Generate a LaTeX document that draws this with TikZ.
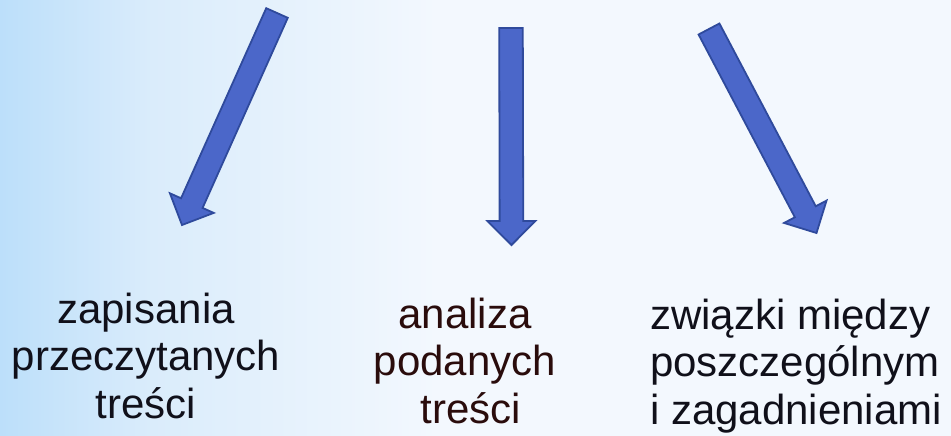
\documentclass[tikz,border=0pt]{standalone}
\usepackage{fontspec}
\setmainfont{Liberation Sans}
\usepackage{tikz}
\usetikzlibrary{calc}
\definecolor{bgleft}{HTML}{BCDFFA}
\definecolor{bgmid}{HTML}{DAECFB}
\definecolor{bgright}{HTML}{F3F8FE}
\definecolor{arrowfill}{HTML}{4B67C9}
\definecolor{arrowline}{HTML}{2F4A9C}
\definecolor{textdark}{HTML}{10101A}
\definecolor{textbrown}{HTML}{2A0C0C}
% stops between 25bp and 75bp, where the picture's box is placed
\pgfdeclarehorizontalshading{slidebg}{100bp}{color(0bp)=(bgleft); color(25bp)=(bgleft); color(33bp)=(bgmid); color(48bp)=(bgright); color(100bp)=(bgright)}
\tikzset{blockarrow/.style={draw=arrowline,fill=arrowfill,
                            line width=1.8pt,line join=miter}}
\tikzset{topic/.style={inner sep=0pt,anchor=base,
                       font=\fontsize{42}{47.5}\selectfont}}
\def\shaft{11.8pt}
\def\headw{24pt}
\def\headl{24pt}

\begin{document}
\begin{tikzpicture}[x=1pt,y=1pt]
    % Background of the slide
    \fill[shading=slidebg] (0,0) rectangle (951,-436);
    \useasboundingbox (0,0) rectangle (951,-436);

    % Draw the three block arrows from tail to tip
    \foreach \name / \tx / \ty / \hx / \hy in {L/277/13/182/225,M/511/28/511.5/245,R/709/29/816.5/233}
    {
        \coordinate (\name-tail) at (\tx,-\ty);
        \coordinate (\name-tip) at (\hx,-\hy);
        \coordinate (\name-base) at ($(\name-tip)!\headl!(\name-tail)$);
        \draw[blockarrow] ($(\name-tail)!\shaft!90:(\name-tip)$)
            -- ($(\name-base)!\shaft!90:(\name-tip)$)
            -- ($(\name-base)!\headw!90:(\name-tip)$)
            -- (\name-tip)
            -- ($(\name-base)!\headw!-90:(\name-tip)$)
            -- ($(\name-base)!\shaft!-90:(\name-tip)$)
            -- ($(\name-tail)!\shaft!-90:(\name-tip)$) -- cycle;
    }

    % Texts under the arrows (base is the last line)
    \node[topic,text=textdark,align=center] (L-text) at (146,-418)
        {zapisania\\przeczytanych\\treści};
    \node[topic,text=textbrown,align=center] (M-text) at (465,-423)
        {analiza\\podanych\\\hspace*{0.28em}treści};
    \node[topic,text=textdark,align=left,anchor=base west] (R-text) at (650,-424)
        {związki między\\poszczególnym\\i zagadnieniami};
\end{tikzpicture}
\end{document}
